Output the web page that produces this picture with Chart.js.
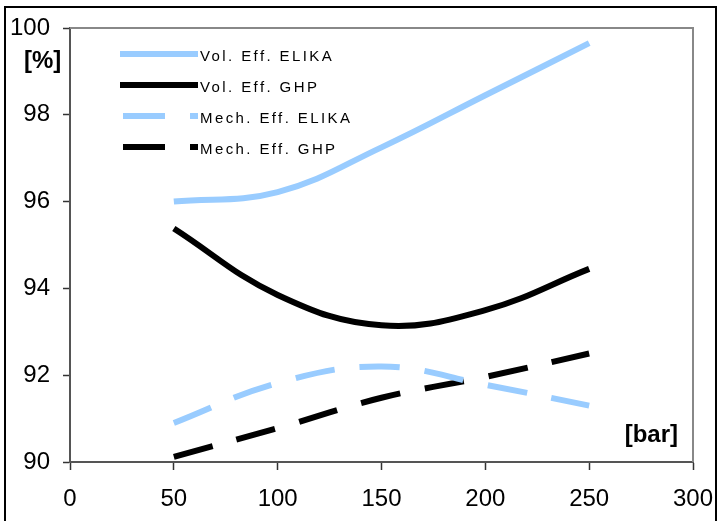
<!DOCTYPE html>
<html>
<head>
<meta charset="utf-8">
<script src="https://cdn.jsdelivr.net/npm/chart.js@4/dist/chart.umd.min.js"></script>
<style>
  html, body { margin: 0; padding: 0; background: #fff; }
  #wrap { position: relative; width: 722px; height: 521px; overflow: hidden; }
  #frame { position: absolute; left: 4px; top: 6px; width: 713px; height: 540px; border: 2px solid #000; box-sizing: border-box; pointer-events: none; }
  canvas { position: absolute; left: 0; top: 0; }
</style>
</head>
<body>
<div id="wrap">
  <canvas id="effChart" width="722" height="521"></canvas>
  <div id="frame"></div>
</div>
<script>
// pressure values [bar]
const pressures = [50, 100, 150, 200, 250];

// efficiencies [%]
const volEffElika = [96.0, 96.22, 97.25, 98.45, 99.65];
const volEffGhp = [95.38, 93.85, 93.15, 93.5, 94.45];
const mechEffElika = [90.9, 91.82, 92.2, 91.78, 91.3];
const mechEffGhp = [90.12, 90.78, 91.48, 91.96, 92.5];

const xTicks = [0, 50, 100, 150, 200, 250, 300];
const yTicks = [90, 92, 94, 96, 98, 100];

const lightBlue = '#99ccff';
const fontFam = '"Liberation Sans", Arial, sans-serif';

function pts(vals) {
    return pressures.map((p, i) => ({ x: p, y: vals[i] }));
}

// legend drawn inside the plot, like the original
const innerLegend = {
    id: 'innerLegend',
    afterDatasetsDraw(chart) {
        const ctx = chart.ctx;
        const a = chart.chartArea;
        const x0 = a.left + 50, x1 = a.left + 128;
        ctx.save();
        chart.data.datasets.forEach((ds, i) => {
            const y = a.top + 26 + i * 31;
            ctx.strokeStyle = ds.borderColor;
            ctx.lineWidth = 6;
            ctx.lineCap = 'butt';
            ctx.beginPath();
            if (ds.borderDash && ds.borderDash.length) {
                ctx.moveTo(x0 + 3, y); ctx.lineTo(x0 + 45, y);
                ctx.moveTo(x1 - 8, y); ctx.lineTo(x1, y);
            } else {
                ctx.moveTo(x0, y); ctx.lineTo(x1, y);
            }
            ctx.stroke();
            ctx.fillStyle = '#000';
            ctx.font = '15px ' + fontFam;
            ctx.letterSpacing = '2.4px';
            ctx.textBaseline = 'middle';
            ctx.fillText(ds.label, x1 + 2, y + 3);
        });
        ctx.restore();
    }
};

// gray top/right frame and unit labels
const plotFrame = {
    id: 'plotFrame',
    beforeDatasetsDraw(chart) {
        const ctx = chart.ctx;
        const a = chart.chartArea;
        ctx.save();
        ctx.strokeStyle = '#888';
        ctx.lineWidth = 2;
        ctx.beginPath();
        ctx.moveTo(a.left, a.top);
        ctx.lineTo(a.right, a.top);
        ctx.lineTo(a.right, a.bottom);
        ctx.stroke();
        ctx.fillStyle = '#000';
        ctx.font = 'bold 24px ' + fontFam;
        ctx.textBaseline = 'middle';
        ctx.textAlign = 'left';
        ctx.fillText('[%]', 24, 61);
        ctx.textAlign = 'right';
        ctx.fillText('[bar]', a.right - 15, a.bottom - 27);
        ctx.restore();
    }
};

new Chart(document.getElementById('effChart'), {
    type: 'line',
    data: {
        datasets: [
            { label: 'Vol. Eff. ELIKA', data: pts(volEffElika), borderColor: lightBlue, borderWidth: 6 },
            { label: 'Vol. Eff. GHP', data: pts(volEffGhp), borderColor: '#000', borderWidth: 6 },
            { label: 'Mech. Eff. ELIKA', data: pts(mechEffElika), borderColor: lightBlue, borderWidth: 6, borderDash: [40, 25] },
            { label: 'Mech. Eff. GHP', data: pts(mechEffGhp), borderColor: '#000', borderWidth: 6, borderDash: [40, 25] }
        ]
    },
    options: {
        responsive: false,
        animation: false,
        layout: { padding: { top: 28, right: 29, left: 0, bottom: 0 } },
        elements: {
            point: { radius: 0, hoverRadius: 0 },
            line: { tension: 0.4, fill: false, borderCapStyle: 'butt' }
        },
        scales: {
            x: {
                type: 'linear',
                min: 0,
                max: 300,
                afterBuildTicks(scale) { scale.ticks = xTicks.map(v => ({ value: v })); },
                afterFit(scale) {
                    scale.height = 59;
                    scale.paddingLeft = 0;
                    scale.paddingRight = 0;
                },
                grid: { drawOnChartArea: false, tickLength: 8, tickColor: '#333', tickWidth: 1.5 },
                border: { color: '#555', width: 2 },
                ticks: { color: '#000', font: { family: fontFam, size: 24 }, padding: 15, maxRotation: 0 }
            },
            y: {
                min: 90,
                max: 100,
                afterBuildTicks(scale) { scale.ticks = yTicks.map(v => ({ value: v })); },
                afterFit(scale) {
                    scale.width = 70;
                    scale.paddingTop = 0;
                    scale.paddingBottom = 0;
                },
                grid: { drawOnChartArea: false, tickLength: 7, tickColor: '#333', tickWidth: 1.5 },
                border: { color: '#555', width: 2 },
                ticks: { color: '#000', font: { family: fontFam, size: 24 }, padding: 13 }
            }
        },
        plugins: {
            legend: { display: false },
            tooltip: { enabled: false }
        }
    },
    plugins: [plotFrame, innerLegend]
});
</script>
</body>
</html>
